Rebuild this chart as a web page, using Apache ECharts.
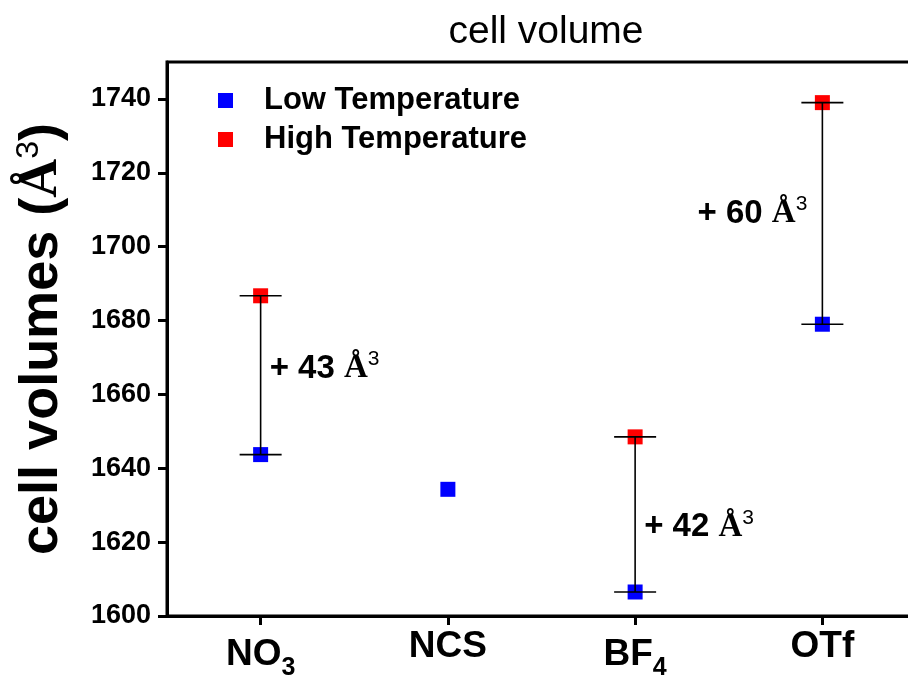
<!DOCTYPE html>
<html>
<head>
<meta charset="utf-8">
<title>cell volume</title>
<script src="https://cdn.jsdelivr.net/npm/echarts@6/dist/echarts.min.js"></script>
<style>
  html, body { margin: 0; padding: 0; background: #fff; }
  #chart { width: 908px; height: 675px; }
</style>
</head>
<body>
<div id="chart"></div>
<script>
// Anions of the salts, split into main text and subscript
const categories = ['NO3', 'NCS', 'BF4', 'OTf'];
const labelMain = ['NO', 'NCS', 'BF', 'OTf'];
const labelSub = ['3', '', '4', ''];

// Unit cell volumes in cubic angstroms
const lowTemp = [1643.7, 1634.3, 1606.5, 1679.0];
const highTemp = [1686.7, null, 1648.5, 1739.0];

// Where the volume-change notes sit (y value) and on which side of the bar
const noteY = [1667, null, 1624, 1709];
const noteSide = ['right', null, 'right', 'left'];

// Y axis range and tick step
const yMin = 1600;
const yMax = 1750;
const yStep = 20;

const sans = 'Arial, "Liberation Sans", Helvetica, sans-serif';
const serif = '"Liberation Serif", "Times New Roman", serif';

const barData = [];
const noteData = [];
categories.forEach(function (c, i) {
  if (lowTemp[i] != null && highTemp[i] != null) {
    barData.push([i, lowTemp[i], highTemp[i]]);
    const diff = Math.round(highTemp[i] - lowTemp[i]);
    noteData.push({
      value: [i, noteY[i]],
      diff: diff,
      label: { position: noteSide[i], distance: noteSide[i] === 'left' ? 15 : 9 }
    });
  }
});

const chart = echarts.init(document.getElementById('chart'), null, { renderer: 'canvas' });

chart.setOption({
  backgroundColor: '#ffffff',
  animation: false,
  title: {
    text: 'cell volume',
    left: 541,
    top: 8,
    textAlign: 'center',
    textStyle: { fontFamily: sans, fontSize: 39, fontWeight: 'normal', color: '#000' }
  },
  legend: {
    orient: 'vertical',
    left: 213,
    top: 80,
    itemWidth: 15,
    itemHeight: 15,
    itemGap: 8,
    icon: 'rect',
    data: ['Low Temperature', 'High Temperature'],
    textStyle: {
      fontFamily: sans, fontSize: 31, fontWeight: 'bold', color: '#000',
      padding: [0, 0, 0, 26]
    }
  },
  grid: {
    left: 167,
    top: 62,
    bottom: 59,
    right: -8,
    containLabel: false,
    outerBoundsMode: 'none',
    show: true,
    borderColor: '#000',
    borderWidth: 3,
    backgroundColor: 'transparent'
  },
  xAxis: {
    type: 'category',
    data: categories,
    boundaryGap: true,
    axisLine: { show: true, lineStyle: { color: '#000', width: 3 } },
    axisTick: { show: true, alignWithLabel: true, length: 9, lineStyle: { color: '#000', width: 3 } },
    splitLine: { show: false },
    axisLabel: {
      margin: 12,
      formatter: function (v, i) {
        return '{m|' + labelMain[i] + '}' + (labelSub[i] ? '{s|' + labelSub[i] + '}' : '');
      },
      rich: {
        m: { fontFamily: sans, fontSize: 37, fontWeight: 'bold', color: '#000' },
        s: { fontFamily: sans, fontSize: 25, fontWeight: 'bold', color: '#000', padding: [28, 0, 0, 0] }
      }
    }
  },
  yAxis: {
    type: 'value',
    min: yMin,
    max: yMax,
    interval: yStep,
    name: '{t|cell volumes (}{a|Å}{s|3}{t|)}',
    nameLocation: 'middle',
    nameRotate: 90,
    nameGap: 96,
    nameTextStyle: {
      rich: {
        t: { fontFamily: sans, fontSize: 54, fontWeight: 'bold', color: '#000' },
        a: { fontFamily: serif, fontSize: 54, fontWeight: 'bold', color: '#000' },
        s: { fontFamily: sans, fontSize: 32, fontWeight: 'normal', color: '#000', padding: [0, 0, 26, 0] }
      }
    },
    axisLine: { show: true, lineStyle: { color: '#000', width: 3 } },
    axisTick: { show: true, length: 9, lineStyle: { color: '#000', width: 3 } },
    splitLine: { show: false },
    axisLabel: {
      margin: 16,
      showMaxLabel: false,
      formatter: function (v) { return String(v); },
      fontFamily: sans,
      fontSize: 27,
      fontWeight: 'bold',
      color: '#000'
    }
  },
  series: [
    {
      name: 'Low Temperature',
      type: 'scatter',
      symbol: 'rect',
      symbolSize: 15,
      itemStyle: { color: '#0000ff', opacity: 1 },
      z: 2,
      data: lowTemp.map(function (v, i) { return v == null ? null : [i, v]; })
    },
    {
      name: 'High Temperature',
      type: 'scatter',
      symbol: 'rect',
      symbolSize: 15,
      itemStyle: { color: '#ff0000', opacity: 1 },
      z: 2,
      data: highTemp.map(function (v, i) { return v == null ? null : [i, v]; })
    },
    {
      // range bars joining the two temperatures, capped at both ends
      type: 'custom',
      z: 3,
      silent: true,
      data: barData,
      renderItem: function (params, api) {
        const lo = api.coord([api.value(0), api.value(1)]);
        const hi = api.coord([api.value(0), api.value(2)]);
        const cap = 21;
        const style = { stroke: '#000', lineWidth: 1.6 };
        return {
          type: 'group',
          children: [
            { type: 'line', shape: { x1: lo[0], y1: lo[1], x2: hi[0], y2: hi[1] }, style: style },
            { type: 'line', shape: { x1: lo[0] - cap, y1: lo[1], x2: lo[0] + cap, y2: lo[1] }, style: style },
            { type: 'line', shape: { x1: hi[0] - cap, y1: hi[1], x2: hi[0] + cap, y2: hi[1] }, style: style }
          ]
        };
      }
    },
    {
      // volume change notes
      type: 'scatter',
      symbolSize: 0,
      silent: true,
      z: 4,
      itemStyle: { opacity: 1 },
      data: noteData,
      label: {
        show: true,
        color: '#000',
        opacity: 1,
        formatter: function (p) {
          return '{n|+ ' + p.data.diff + ' }{a|Å}{s|3}';
        },
        rich: {
          n: { fontFamily: sans, fontSize: 33, fontWeight: 'bold', color: '#000' },
          a: { fontFamily: serif, fontSize: 33, fontWeight: 'bold', color: '#000' },
          s: { fontFamily: sans, fontSize: 21, fontWeight: 'normal', color: '#000', padding: [0, 0, 18, 0] }
        }
      }
    }
  ]
});
</script>
</body>
</html>
